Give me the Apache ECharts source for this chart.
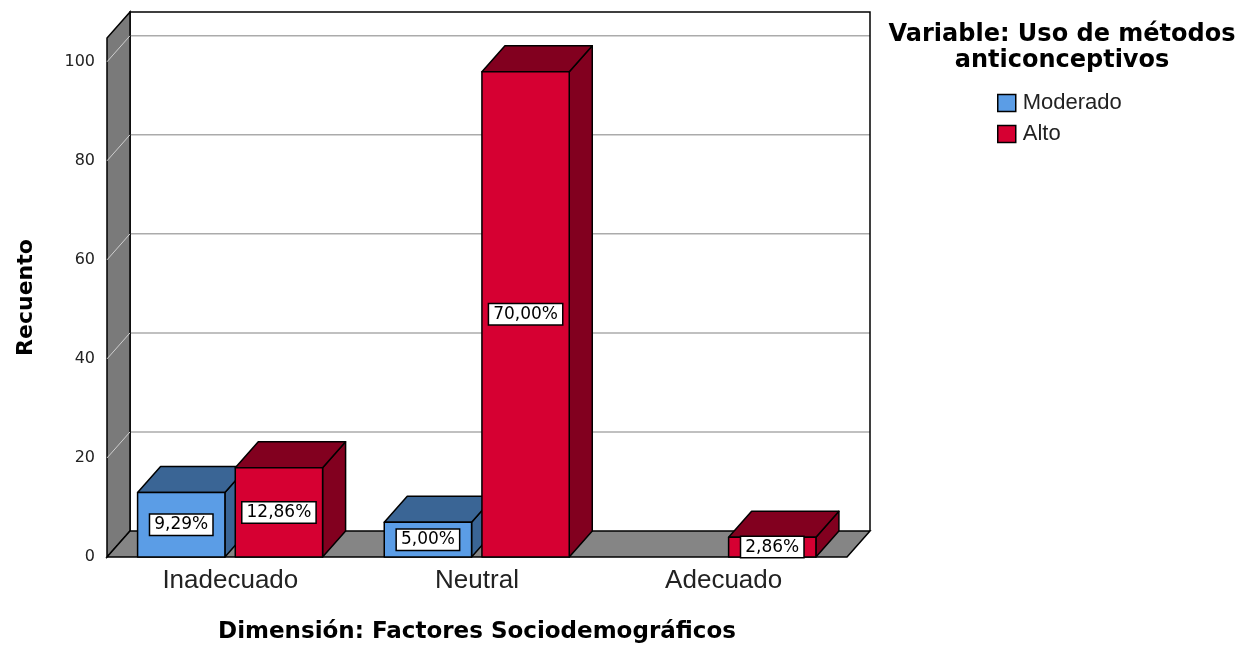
<!DOCTYPE html>
<html>
<head>
<meta charset="utf-8">
<title>Recuento por dimensión</title>
<script src="https://cdn.jsdelivr.net/npm/echarts@6/dist/echarts.min.js"></script>
<style>
  html, body { margin: 0; padding: 0; background: #fff; }
  #chart { width: 1240px; height: 650px; }
</style>
</head>
<body>
<div id="chart"></div>
<script>
// datos (recuento)
const categories = ["Inadecuado", "Neutral", "Adecuado"];
const seriesNames = ["Moderado", "Alto"];
const moderado = [13, 7, 0];
const alto = [18, 98, 4];
const yTicks = [0, 20, 40, 60, 80, 100];

const total = moderado.concat(alto).reduce((a, b) => a + b, 0);

// profundidad del efecto 3D (px)
const DX = 23;
const DY = 26;

const colors = {
  moderado: { front: "#5b9de6", dark: "#3a6595" },
  alto: { front: "#d60032", dark: "#82001f" },
};

function pctLabel(v) {
  return ((v / total) * 100).toFixed(2).replace(".", ",") + "%";
}

// paredes, suelo y líneas de cuadrícula
function renderWalls(params, api) {
  const cs = params.coordSys;
  const x0 = cs.x;
  const xR = cs.x + cs.width;
  const yT = cs.y;
  const yB = cs.y + cs.height;
  const children = [];

  children.push({
    type: "rect",
    shape: { x: x0 + DX, y: yT - DY, width: xR - x0, height: yB - yT },
    style: { fill: "#fff" },
  });
  yTicks.forEach((v) => {
    if (v === 0) return;
    const y = api.coord([0, v])[1] - DY;
    children.push({
      type: "line",
      shape: { x1: x0 + DX, y1: y, x2: xR + DX, y2: y },
      style: { stroke: "#ababab", lineWidth: 1.5 },
    });
  });
  children.push({
    type: "polyline",
    shape: { points: [[x0 + DX, yB - DY], [x0 + DX, yT - DY], [xR + DX, yT - DY], [xR + DX, yB - DY]] },
    style: { stroke: "#000", lineWidth: 1.5, fill: null },
  });

  // pared izquierda
  children.push({
    type: "polygon",
    shape: { points: [[x0, yB], [x0, yT], [x0 + DX, yT - DY], [x0 + DX, yB - DY]] },
    style: { fill: "#7a7a7a", stroke: "#000", lineWidth: 1.5 },
  });
  yTicks.forEach((v) => {
    const y = api.coord([0, v])[1];
    children.push({
      type: "line",
      shape: { x1: x0, y1: y, x2: x0 + DX, y2: y - DY },
      style: { stroke: "#cfcfcf", lineWidth: 1, lineDash: v === 0 ? [2, 2] : null },
    });
  });

  // suelo
  children.push({
    type: "polygon",
    shape: { points: [[x0, yB], [xR, yB], [xR + DX, yB - DY], [x0 + DX, yB - DY]] },
    style: { fill: "#858585", stroke: "#000", lineWidth: 1.5 },
  });

  return { type: "group", children: children };
}

// barra 3D: cara frontal, superior y lateral
function makeBarRenderer(offset, col) {
  return function (params, api) {
    const cat = api.value(0);
    const val = api.value(1);
    if (!val) return;
    const band = api.size([1, 0])[0];
    const base = api.coord([cat, 0]);
    const top = api.coord([cat, val]);
    const w = band * 0.354;
    const cx = base[0] + offset * band;
    const x0 = cx - w / 2;
    const x1 = cx + w / 2;
    const yT = top[1];
    const yB = base[1];
    const edge = { stroke: "#000", lineWidth: 1.5, lineJoin: "round" };

    return {
      type: "group",
      children: [
        {
          type: "polygon",
          shape: { points: [[x1, yT], [x1 + DX, yT - DY], [x1 + DX, yB - DY], [x1, yB]] },
          style: Object.assign({ fill: col.dark }, edge),
        },
        {
          type: "polygon",
          shape: { points: [[x0, yT], [x0 + DX, yT - DY], [x1 + DX, yT - DY], [x1, yT]] },
          style: Object.assign({ fill: col.dark }, edge),
        },
        {
          type: "rect",
          shape: { x: x0, y: yT, width: w, height: yB - yT },
          style: Object.assign({ fill: col.front }, edge),
        },
        {
          type: "text",
          x: cx,
          y: (yT + yB) / 2,
          style: {
            text: pctLabel(val),
            font: '17px "DejaVu Sans"',
            fill: "#000",
            align: "center",
            verticalAlign: "middle",
            backgroundColor: "#fff",
            borderColor: "#000",
            borderWidth: 1.5,
            padding: [2, 4, 1, 4],
          },
        },
      ],
    };
  };
}

const chart = echarts.init(document.getElementById("chart"));

chart.setOption({
  backgroundColor: "#fff",
  animation: false,
  title: {
    text: "Variable: Uso de métodos\nanticonceptivos",
    left: 1057,
    top: 17,
    textAlign: "center",
    textStyle: {
      fontFamily: "DejaVu Sans",
      fontWeight: "bold",
      fontSize: 24,
      lineHeight: 26,
      color: "#000",
    },
  },
  legend: {
    orient: "vertical",
    left: 997,
    top: 92,
    padding: 0,
    icon: "rect",
    itemWidth: 18,
    itemHeight: 17,
    itemGap: 9,
    selectedMode: false,
    data: seriesNames,
    itemStyle: { borderColor: "#000", borderWidth: 1.5 },
    textStyle: {
      fontFamily: "Liberation Sans",
      fontSize: 22,
      color: "#222",
      padding: [0, 0, 0, 2],
    },
  },
  grid: { left: 107, right: 393, top: 38, bottom: 93 },
  xAxis: {
    type: "category",
    data: categories,
    axisLine: { show: false },
    axisTick: { show: false },
    axisLabel: {
      margin: 11,
      fontFamily: "Liberation Sans",
      fontSize: 26,
      color: "#222",
    },
    name: "Dimensión: Factores Sociodemográficos",
    nameLocation: "middle",
    nameGap: 64,
    nameTextStyle: {
      fontFamily: "DejaVu Sans",
      fontWeight: "bold",
      fontSize: 23,
      color: "#000",
    },
  },
  yAxis: {
    type: "value",
    min: 0,
    max: 104.8,
    interval: 20,
    axisLine: { show: false },
    axisTick: { show: false },
    splitLine: { show: false },
    axisLabel: {
      margin: 12,
      showMaxLabel: false,
      fontFamily: "DejaVu Sans",
      fontSize: 16,
      color: "#222",
    },
    name: "Recuento",
    nameLocation: "middle",
    nameGap: 70,
    nameTextStyle: {
      fontFamily: "DejaVu Sans",
      fontWeight: "bold",
      fontSize: 22,
      color: "#000",
    },
  },
  series: [
    {
      name: "walls",
      type: "custom",
      z: 1,
      silent: true,
      renderItem: renderWalls,
      data: [[0, 0]],
    },
    {
      name: seriesNames[0],
      type: "custom",
      z: 2,
      itemStyle: { color: colors.moderado.front },
      renderItem: makeBarRenderer(-0.199, colors.moderado),
      data: categories.map((c, i) => [i, moderado[i]]),
    },
    {
      name: seriesNames[1],
      type: "custom",
      z: 3,
      itemStyle: { color: colors.alto.front },
      renderItem: makeBarRenderer(0.197, colors.alto),
      data: categories.map((c, i) => [i, alto[i]]),
    },
  ],
});
</script>
</body>
</html>
